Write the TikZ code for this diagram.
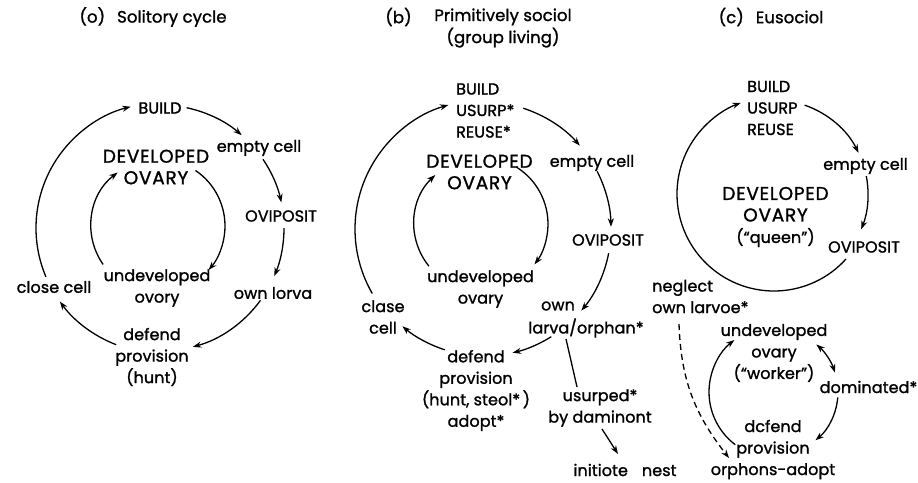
\documentclass[tikz,border=0pt]{standalone}
\usepackage{fontspec}
\setmainfont{Poppins}
\newfontfamily\lblfont{Poppins}[LetterSpace=0.5,FakeBold=1.3]
\newfontfamily\devfont{Poppins}[LetterSpace=4,FakeBold=1.3]
\usetikzlibrary{arrows.meta,calc}
\newcommand\cycarc[5]{\draw[#5] ($(#1)+(#3:#2)$) arc[start angle=#3,end angle=#4,radius=#2];}
\begin{document}
\begin{tikzpicture}[x=1pt,y=-1pt,
  lbl/.style={font=\lblfont\fontsize{16}{21.5}\selectfont, inner sep=0pt, align=center},
  dev/.style={font=\devfont\fontsize{18.5}{21.5}\selectfont, inner sep=0pt, align=center},
  ttl/.style={font=\lblfont\fontsize{16.5}{22}\selectfont, inner sep=0pt, align=center},
  arr/.style={line width=1.3pt, -{Stealth[length=8.5pt,width=6pt]}},
  darr/.style={line width=1.3pt, {Stealth[length=8.5pt,width=6pt]}-{Stealth[length=8.5pt,width=6pt]}},
  pln/.style={line width=1.3pt},
  dsh/.style={line width=1.3pt, dash pattern=on 6pt off 4pt, -{Stealth[length=8.5pt,width=6pt]}}]
\useasboundingbox (0,0) rectangle (918,482);
\fill[white] (0,0) rectangle (918,482);

% ---------------- panel (a) ----------------
\node[ttl] (ta) at (153,17) {(o)\hspace{12pt}Solitory cycle};
\node[lbl] (aBuild) at (160,108) {BUILD};
\node[lbl] (aEmpty) at (259,148) {empty cell};
\node[dev] (aDev) at (156,167) {DEVELOPED\\OVARY};
\node[lbl] (aOvi) at (281,216) {OVIPOSIT};
\node[lbl] (aUndev) at (157,288) {undeveloped\\ovory};
\node[lbl] (aClose) at (54,287) {close cell};
\node[lbl] (aOwn) at (273,293) {own lorva};
\node[lbl] (aDef) at (152,357) {defend\\provision\\(hunt)};
\coordinate (Ca) at (161,228);
\coordinate (Ia) at (158,226);
\cycarc{Ca}{123}{-78}{-49}{arr}
\cycarc{Ca}{123}{-34}{-12}{arr}
\cycarc{Ca}{123}{0}{23}{arr}
\cycarc{Ca}{123}{36}{75}{arr}
\cycarc{Ca}{125}{111}{144}{arr}
\cycarc{Ca}{125}{157}{256}{arr}
\cycarc{Ia}{67}{-56}{41}{arr}
\cycarc{Ia}{67}{145}{233}{arr}

% ---------------- panel (b) ----------------
\node[ttl] (tbl) at (398.5,17) {(b)};
\node[ttl] (tb) at (503,28) {Primitively sociol\\(group living)};
\node[lbl, align=left, anchor=west] (bBuild) at (456,110.5) {BUILD\\USURP*\\REUSE*};
\node[lbl] (bEmpty) at (592,163) {empty cell};
\node[dev] (bDev) at (479.5,172) {DEVELOPED\\OVARY};
\node[lbl] (bOvi) at (608,240) {OVIPOSIT};
\node[lbl] (bUndev) at (480.5,289) {undeveloped\\ovary};
\node[lbl] (bClose) at (383,317) {clase\\cell};
\node[lbl] (bOwn) at (558,306) {own};
\node[lbl] (bLarva) at (586,328) {larva/orphan*};
\node[lbl] (bDef) at (476,390.5) {defend\\provision\\(hunt, steol*\,)\\adopt*};
\node[lbl] (bUsurp) at (600,408) {usurped*\\by daminont};
\node[lbl] (bInit) at (625,470) {initiote\hspace{14pt}nest};
\coordinate (Cb) at (484,229);
\coordinate (Ib) at (481,224);
\cycarc{Cb}{127}{-72}{-41}{arr}
\cycarc{Cb}{127}{-27}{-1}{arr}
\cycarc{Cb}{127}{11}{40}{arr}
\cycarc{Cb}{127}{58}{77}{arr}
\cycarc{Cb}{127}{108}{130}{arr}
\cycarc{Cb}{129}{150}{254}{arr}
\cycarc{Ib}{67}{-58}{37}{arr}
\cycarc{Ib}{67}{141}{227}{arr}
\coordinate (bL1) at (566,339);
\coordinate (bL2) at (577,387);
\draw[pln] (bL1) -- (bL2);
\coordinate (bA1) at (602,429);
\coordinate (bA2) at (618,454);
\draw[arr] (bA1) -- (bA2);

% ---------------- panel (c) ----------------
\node[ttl] (tc) at (771,17) {(c)\hspace{12pt}Eusociol};
\node[lbl, align=left, anchor=west] (cBuild) at (747,108) {BUILD\\USURP\\REUSE};
\node[lbl] (cEmpty) at (865.5,166) {empty cell};
\node[dev] (cDev) at (775.5,217) {DEVELOPED\\OVARY\\{\lblfont\fontsize{16}{21.5}\selectfont(“queen”)}};
\node[lbl] (cOvi) at (864,247) {OVIPOSIT};
\node[lbl, align=left, anchor=west] (cNeg) at (652,296.5) {neglect\\own larvoe*};
\node[lbl] (cUndev) at (774,353) {undeveloped\\ovary\\(“worker”)};
\node[lbl] (cDom) at (868.5,387) {dominated*};
\node[lbl] (cDef) at (773,449.5) {dcfend\\provision\\orphons-adopt};
\coordinate (Cc) at (774,194);
\coordinate (Ic) at (775,392);
\cycarc{Cc}{94}{-71}{-26}{arr}
\cycarc{Cc}{94}{-11}{22}{arr}
\cycarc{Cc}{97}{42}{250}{arr}
\cycarc{Ic}{63}{-49}{-18}{darr}
\cycarc{Ic}{63}{5}{50}{arr}
\cycarc{Ic}{66}{127}{232}{arr}
\coordinate (cD1) at (679,324);
\coordinate (cD2) at (729,458);
\draw[dsh] (cD1) to[out=-88,in=128] (cD2);
\end{tikzpicture}
\end{document}
